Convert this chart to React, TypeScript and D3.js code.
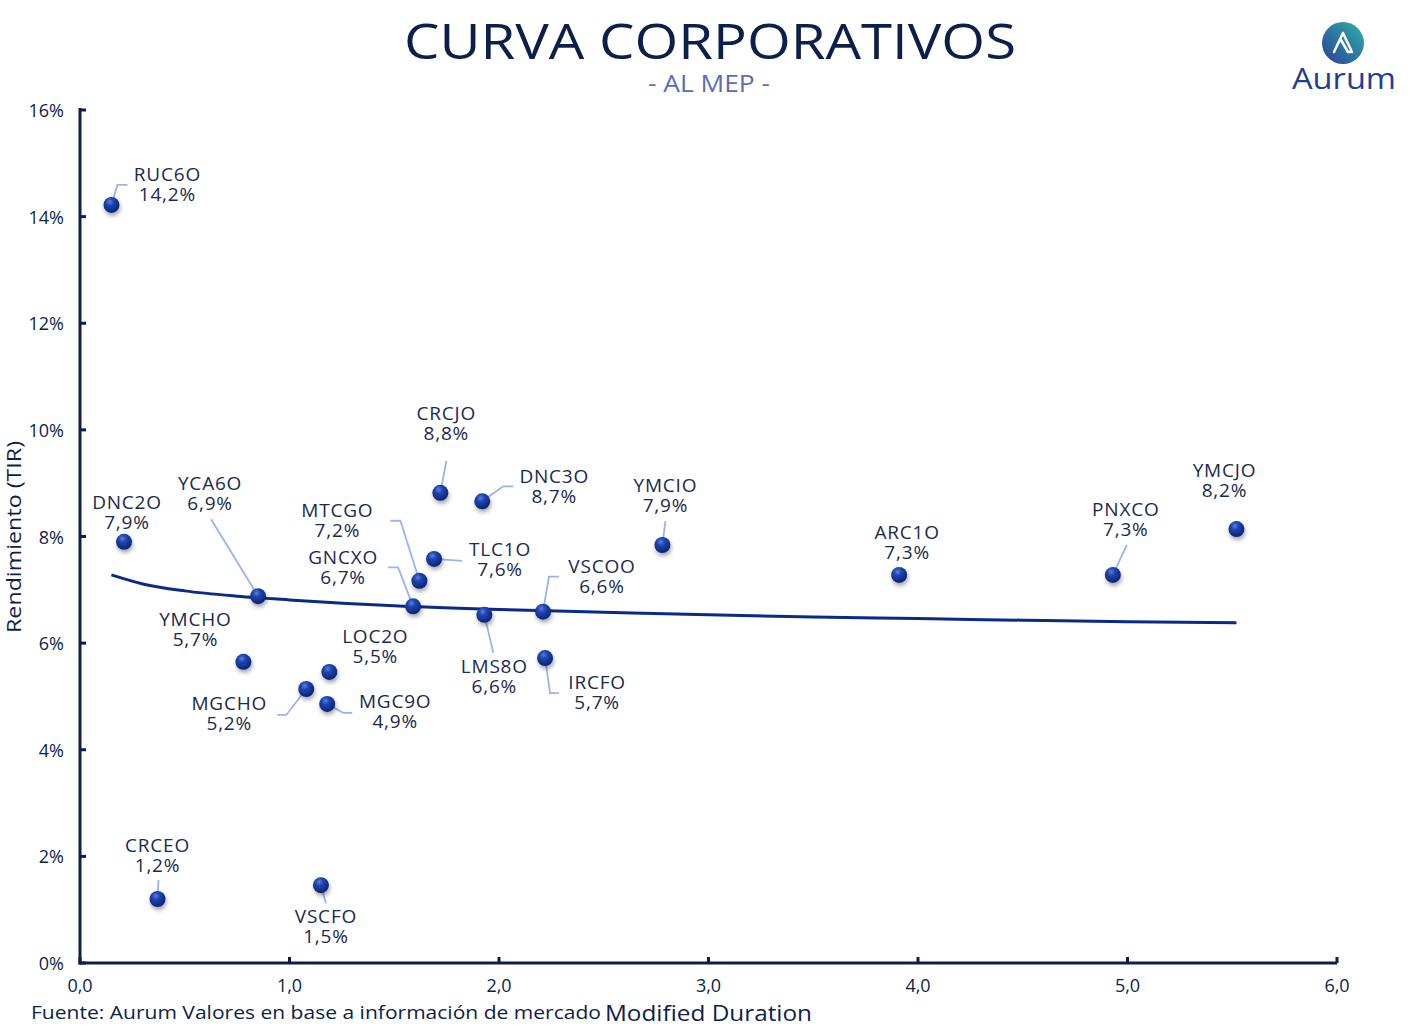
import React from "react";
import * as d3 from "d3";

// ---- data ----
const tickers = ["RUC6O","DNC2O","YCA6O","YMCHO","MGCHO","LOC2O","MGC9O","CRCEO","VSCFO","GNCXO","MTCGO","TLC1O","CRCJO","DNC3O","LMS8O","VSCOO","IRCFO","YMCIO","ARC1O","PNXCO","YMCJO"];
const durations = [0.15,0.21,0.85,0.78,1.08,1.19,1.18,0.37,1.15,1.59,1.62,1.69,1.72,1.92,1.93,2.21,2.22,2.78,3.91,4.93,5.52];
const yields = [14.2,7.9,6.9,5.7,5.2,5.5,4.9,1.2,1.5,6.7,7.2,7.6,8.8,8.7,6.6,6.6,5.7,7.9,7.3,7.3,8.2];
// y-position used for plotting (label values shown above are rounded)
const plotYields = [14.22,7.9,6.88,5.65,5.14,5.46,4.86,1.2,1.46,6.69,7.17,7.58,8.82,8.66,6.53,6.59,5.72,7.84,7.28,7.28,8.14];
const trendX = [0.15,0.3,0.5,0.75,1.0,1.5,2.0,2.5,3.0,3.5,4.0,4.5,5.0,5.52];
const trendY = [7.28,7.11,6.98,6.88,6.81,6.70,6.63,6.58,6.53,6.49,6.46,6.43,6.40,6.38];
const yTicks = [0,2,4,6,8,10,12,14,16];
const xTicks = [0,1,2,3,4,5,6];

// ---- label layout (pixel offsets from point) ----
const labelLayout: Record<string, { dx: number; dy: number; leader?: [number, number][] }> = {
  RUC6O: { dx: 56, dy: -30, leader: [[6, -20], [16, -20]] },
  DNC2O: { dx: 3, dy: -39 },
  YCA6O: { dx: -48, dy: -113, leader: [[-47, -77]] },
  YMCHO: { dx: -48, dy: -42 },
  MGCHO: { dx: -77, dy: 15, leader: [[-20, 26], [-29, 26]] },
  LOC2O: { dx: 46, dy: -35 },
  MGC9O: { dx: 68, dy: -2, leader: [[16, 9], [25, 9]] },
  CRCEO: { dx: 0, dy: -54, leader: [[1, -19]] },
  VSCFO: { dx: 5, dy: 31, leader: [[5, 18]] },
  GNCXO: { dx: -70, dy: -49, leader: [[-15, -39], [-25, -39]] },
  MTCGO: { dx: -82, dy: -70, leader: [[-19, -60], [-29, -60]] },
  TLC1O: { dx: 66, dy: -9, leader: [[28, 2]] },
  CRCJO: { dx: 6, dy: -79, leader: [[6, -32]] },
  DNC3O: { dx: 72, dy: -25, leader: [[21, -15], [31, -15]] },
  LMS8O: { dx: 10, dy: 52, leader: [[9, 38]] },
  VSCOO: { dx: 59, dy: -45, leader: [[6, -35], [16, -35]] },
  IRCFO: { dx: 52, dy: 24, leader: [[5, 35], [14, 35]] },
  YMCIO: { dx: 3, dy: -60, leader: [[3, -24]] },
  ARC1O: { dx: 8, dy: -42 },
  PNXCO: { dx: 13, dy: -65, leader: [[14, -30]] },
  YMCJO: { dx: -12, dy: -59 },
};

const W = 1420, H = 1030;
const X0 = 80, X1 = 1337, Y0 = 963, Y1 = 110;
const navy = "#0c1f4a";
const FONT = "'Open Sans', 'DejaVu Sans', sans-serif";

const fmt = (v: number, d: number) => v.toFixed(d).replace(".", ",");

export default function App() {
  const x = d3.scaleLinear().domain([0, 6]).range([X0, X1]);
  const y = d3.scaleLinear().domain([0, 16]).range([Y0, Y1]);
  const trendLine = d3
    .line<number>()
    .x((_, i) => x(trendX[i]))
    .y((d) => y(d))
    .curve(d3.curveMonotoneX)(trendY);

  const pts = tickers.map((t, i) => ({ t, px: x(durations[i]), py: y(plotYields[i]), v: yields[i] }));

  return (
    <svg width={W} height={H} style={{ position: "absolute", left: 0, top: 0, background: "#fff" }} fontFamily={FONT}>
      <defs>
        <radialGradient id="ball" cx="40%" cy="30%" r="70%">
          <stop offset="0%" stopColor="#5a7fe0" />
          <stop offset="35%" stopColor="#1f45b0" />
          <stop offset="100%" stopColor="#0a2275" />
        </radialGradient>
        <filter id="shadow" x="-50%" y="-50%" width="200%" height="200%">
          <feDropShadow dx="1" dy="3" stdDeviation="2" floodColor="#000" floodOpacity="0.35" />
        </filter>
        <linearGradient id="logoGrad" x1="0" y1="1" x2="1" y2="0">
          <stop offset="0%" stopColor="#2a3f9c" />
          <stop offset="100%" stopColor="#2fb3a6" />
        </linearGradient>
      </defs>
      <rect x={0} y={0} width={W} height={H} fill="#fff" />

      {/* Title */}
      <text x={710} y={59} textAnchor="middle" fontSize={50} fill={navy} fontWeight={500} textLength={612} lengthAdjust="spacingAndGlyphs">
        CURVA CORPORATIVOS
      </text>
      <text x={709} y={92} textAnchor="middle" fontSize={23} fill="#5a6cb8" textLength={122} lengthAdjust="spacingAndGlyphs">- AL MEP -</text>

      {/* Logo */}
      <g>
        <circle cx={1343} cy={43} r={21} fill="url(#logoGrad)" />
        <path d="M1334,52 L1343,33 L1352,52 L1348,52 L1341,40" fill="none" stroke="#fff" strokeWidth={2.5} strokeLinejoin="round" strokeLinecap="round" />
        <text x={1344} y={89} textAnchor="middle" fontSize={29} fill="#1f3d95" fontWeight={500} textLength={104} lengthAdjust="spacingAndGlyphs">
          Aurum
        </text>
      </g>

      {/* Axes */}
      <line x1={X0} y1={Y1 - 2} x2={X0} y2={Y0 + 1.5} stroke={navy} strokeWidth={3} />
      <line x1={X0 - 1.5} y1={Y0} x2={X1} y2={Y0} stroke={navy} strokeWidth={3} />
      {yTicks.map((t) => (
        <g key={"y" + t}>
          <line x1={X0} x2={X0 + 6} y1={y(t)} y2={y(t)} stroke={navy} strokeWidth={3} />
          <text x={64} y={y(t) + 7} textAnchor="end" fontSize={18} fill={navy}>
            {t}%
          </text>
        </g>
      ))}
      {xTicks.map((t) => (
        <g key={"x" + t}>
          <line x1={x(t)} x2={x(t)} y1={Y0} y2={Y0 - 6} stroke={navy} strokeWidth={3} />
          <text x={x(t)} y={992} textAnchor="middle" fontSize={18} fill={navy}>
            {fmt(t, 1)}
          </text>
        </g>
      ))}
      <text transform={`translate(21,537) rotate(-90)`} textAnchor="middle" fontSize={20} fill={navy} textLength={192} lengthAdjust="spacingAndGlyphs">
        Rendimiento (TIR)
      </text>
      <text x={31} y={1019} fontSize={18} fill={navy} textLength={570} lengthAdjust="spacingAndGlyphs">Fuente: Aurum Valores en base a información de mercado</text>
      <text x={605} y={1021} fontSize={22} fill={navy} textLength={207} lengthAdjust="spacingAndGlyphs">Modified Duration</text>

      {/* Trend line */}
      <path d={trendLine || ""} fill="none" stroke="#0a2a8a" strokeWidth={3} />

      {/* Leader lines */}
      {pts.map((p) => {
        const L = labelLayout[p.t];
        if (!L.leader) return null;
        const coords: [number, number][] = [[p.px, p.py], ...L.leader.map(([a, b]) => [p.px + a, p.py + b] as [number, number])];
        return <path key={"l" + p.t} d={d3.line()(coords) || ""} fill="none" stroke="#9ab3ef" strokeWidth={1.8} />;
      })}

      {/* Points */}
      {pts.map((p) => (
        <circle key={"c" + p.t} cx={p.px} cy={p.py} r={8} fill="url(#ball)" filter="url(#shadow)" />
      ))}

      {/* Labels */}
      {pts.map((p) => {
        const L = labelLayout[p.t];
        const cx = p.px + L.dx;
        const cy = p.py + L.dy;
        return (
          <text key={"t" + p.t} textAnchor="middle" fontSize={19} letterSpacing={0.8} fill="#1a2a4e">
            <tspan x={cx} y={cy + 6.5}>{p.t}</tspan>
            <tspan x={cx} y={cy + 26.5}>{fmt(p.v, 1)}%</tspan>
          </text>
        );
      })}
    </svg>
  );
}
